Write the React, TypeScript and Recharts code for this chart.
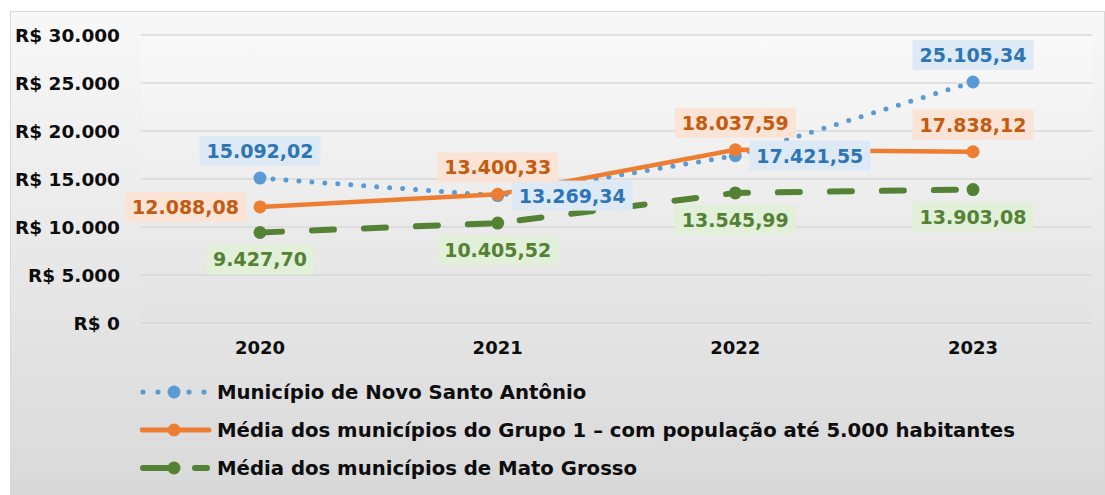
import { CartesianGrid, LabelList, Line, LineChart, XAxis, YAxis } from "recharts";

const YEARS = ["2020", "2021", "2022", "2023"];
const NOVO_SANTO_ANTONIO = [15092.02, 13269.34, 17421.55, 25105.34];
const GRUPO_1 = [12088.08, 13400.33, 18037.59, 17838.12];
const MATO_GROSSO = [9427.7, 10405.52, 13545.99, 13903.08];
const Y_TICKS = [0, 5000, 10000, 15000, 20000, 25000, 30000];

const SERIES_NAMES = [
  "Município de Novo Santo Antônio",
  "Média dos municípios do Grupo 1 – com população até 5.000 habitantes",
  "Média dos municípios de Mato Grosso",
];

// where each data label sits relative to its point
const NOVO_SIDES = ["top", "right", "right", "top"];
const GRUPO_SIDES = ["left", "top", "top", "top"];
const MT_SIDES = ["bottom", "bottom", "bottom", "bottom"];

const FONT = "'DejaVu Sans', Verdana, sans-serif";
const BLUE = "#5b9bd5";
const ORANGE = "#ed7d31";
const GREEN = "#548235";

const chartData = YEARS.map((year, i) => ({
  year,
  novo: NOVO_SANTO_ANTONIO[i],
  grupo: GRUPO_1[i],
  mt: MATO_GROSSO[i],
}));

function fmt(v: number, dec: number) {
  const [int, frac] = v.toFixed(dec).split(".");
  const dotted = int.replace(/\B(?=(\d{3})+(?!\d))/g, ".");
  return frac ? `${dotted},${frac}` : dotted;
}

function textWidth(s: string, fs: number) {
  let w = 0;
  for (const c of s) w += /\d/.test(c) ? 0.696 : 0.38;
  return w * fs;
}

function makeLabel(sides: string[], color: string, bg: string) {
  return function DataLabel(props: any) {
    const x = props.x ?? props.viewBox?.x;
    const y = props.y ?? props.viewBox?.y;
    const { value, index } = props;
    if (x == null || y == null || value == null) return null;
    const fs = 19;
    const text = fmt(Number(value), 2);
    const w = textWidth(text, fs) + 14;
    const h = 30;
    let cx = x;
    let cy = y;
    const side = sides[index];
    if (side === "top") cy = y - 12 - h / 2;
    if (side === "bottom") cy = y + 12 + h / 2;
    if (side === "left") cx = x - 14 - w / 2;
    if (side === "right") cx = x + 14 + w / 2;
    return (
      <g>
        <rect x={cx - w / 2} y={cy - h / 2} width={w} height={h} fill={bg} />
        <text
          x={cx}
          y={cy + 7}
          textAnchor="middle"
          fill={color}
          fontFamily={FONT}
          fontWeight="bold"
          fontSize={fs}
        >
          {text}
        </text>
      </g>
    );
  };
}

function LegendIcon({ kind }: { kind: number }) {
  if (kind === 0) {
    return (
      <svg width={72} height={16}>
        {[3, 18, 49, 64].map((cx) => (
          <circle key={cx} cx={cx} cy={8} r={2.6} fill={BLUE} />
        ))}
        <circle cx={34} cy={8} r={6.5} fill={BLUE} />
      </svg>
    );
  }
  if (kind === 1) {
    return (
      <svg width={72} height={16}>
        <line x1={2} y1={8} x2={69} y2={8} stroke={ORANGE} strokeWidth={5} strokeLinecap="round" />
        <circle cx={34} cy={8} r={6.5} fill={ORANGE} />
      </svg>
    );
  }
  return (
    <svg width={72} height={16}>
      <line x1={3} y1={8} x2={34} y2={8} stroke={GREEN} strokeWidth={6} strokeLinecap="round" />
      <line x1={55} y1={8} x2={67} y2={8} stroke={GREEN} strokeWidth={6} strokeLinecap="round" />
      <circle cx={34} cy={8} r={6.5} fill={GREEN} />
    </svg>
  );
}

export default function App() {
  return (
    <div
      style={{
        position: "absolute",
        left: 10,
        top: 11,
        width: 1095,
        height: 484,
        boxSizing: "border-box",
        border: "1px solid #d9d9d9",
        background: "linear-gradient(180deg, #f8f8f8 0%, #d9d9d9 100%)",
      }}
    >
      <LineChart
        width={1093}
        height={482}
        data={chartData}
        margin={{ top: 23, right: 12, left: 0, bottom: 141 }}
      >
        <defs>
          <linearGradient id="plotBg" x1="0" y1="0" x2="0" y2="1">
            <stop offset="0%" stopColor="#f9f9f9" />
            <stop offset="100%" stopColor="#e3e3e3" />
          </linearGradient>
        </defs>
        <CartesianGrid vertical={false} stroke="#d9d9d9" strokeWidth={1.5} fill="url(#plotBg)" />
        <XAxis
          dataKey="year"
          axisLine={false}
          tickLine={false}
          height={30}
          tickMargin={12}
          padding={{ left: 119, right: 119 }}
          tick={{ fill: "#0d0d0d", fontFamily: FONT, fontWeight: "bold", fontSize: 18 }}
        />
        <YAxis
          width={130}
          domain={[0, 30000]}
          ticks={Y_TICKS}
          axisLine={false}
          tickLine={false}
          tickMargin={15}
          tickFormatter={(v: number) => `R$ ${fmt(v, 0)}`}
          tick={{ fill: "#0d0d0d", fontFamily: FONT, fontWeight: "bold", fontSize: 18.5 }}
        />
        <Line
          dataKey="novo"
          name={SERIES_NAMES[0]}
          stroke={BLUE}
          strokeWidth={5}
          strokeDasharray="0 13"
          strokeLinecap="round"
          dot={{ r: 6.5, fill: BLUE, stroke: "none" }}
          activeDot={false}
          isAnimationActive={false}
        />
        <Line
          dataKey="grupo"
          name={SERIES_NAMES[1]}
          stroke={ORANGE}
          strokeWidth={4.5}
          dot={{ r: 6.5, fill: ORANGE, stroke: "none" }}
          activeDot={false}
          isAnimationActive={false}
        />
        <Line
          dataKey="mt"
          name={SERIES_NAMES[2]}
          stroke={GREEN}
          strokeWidth={6}
          strokeDasharray="22 30"
          strokeLinecap="round"
          dot={{ r: 6.5, fill: GREEN, stroke: "none" }}
          activeDot={false}
          isAnimationActive={false}
        />
        {/* label-only layers so the boxes sit above every line */}
        <Line dataKey="novo" stroke="none" dot={false} activeDot={false} legendType="none" isAnimationActive={false}>
          <LabelList dataKey="novo" content={makeLabel(NOVO_SIDES, "#2e75b6", "#ddeaf6")} />
        </Line>
        <Line dataKey="grupo" stroke="none" dot={false} activeDot={false} legendType="none" isAnimationActive={false}>
          <LabelList dataKey="grupo" content={makeLabel(GRUPO_SIDES, "#c55a11", "#fbe4d5")} />
        </Line>
        <Line dataKey="mt" stroke="none" dot={false} activeDot={false} legendType="none" isAnimationActive={false}>
          <LabelList dataKey="mt" content={makeLabel(MT_SIDES, "#548235", "#e2efd9")} />
        </Line>
      </LineChart>
      <div style={{ position: "absolute", left: 129, top: 361, fontFamily: FONT, fontWeight: "bold", fontSize: 19.7, color: "#0d0d0d" }}>
        {SERIES_NAMES.map((name, i) => (
          <div key={name} style={{ display: "flex", alignItems: "center", height: 38, gap: 5 }}>
            <LegendIcon kind={i} />
            <span>{name}</span>
          </div>
        ))}
      </div>
    </div>
  );
}
